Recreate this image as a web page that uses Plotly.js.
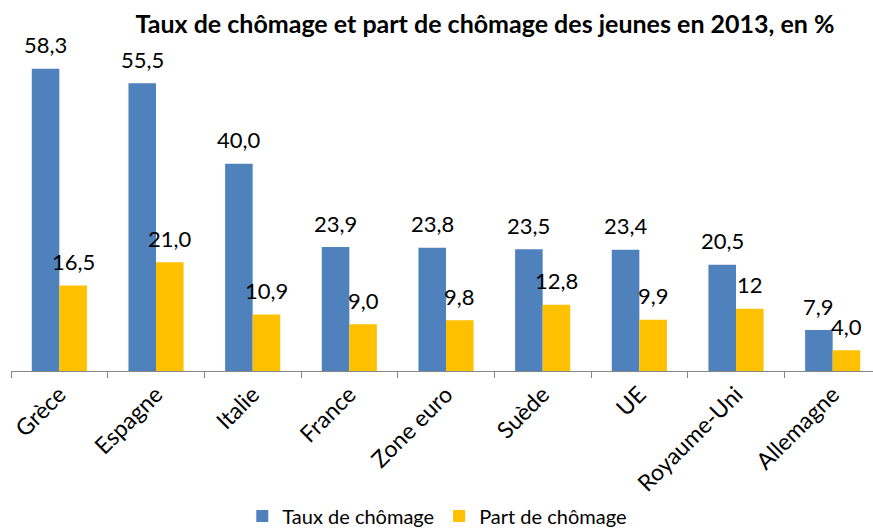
<!DOCTYPE html>
<html>
<head>
<meta charset="utf-8">
<script src="https://cdn.plot.ly/plotly-3.0.1.min.js"></script>
<style>
html,body{margin:0;padding:0;overflow:hidden;background:#fff;}
#chart{width:890px;height:530px;}
</style>
</head>
<body>
<div id="chart"></div>
<script>
const categories = ["Grèce","Espagne","Italie","France","Zone euro","Suède","UE","Royaume-Uni","Allemagne"];
const tauxChomage = [58.3,55.5,40.0,23.9,23.8,23.5,23.4,20.5,7.9];
const partChomage = [16.5,21.0,10.9,9.0,9.8,12.8,9.9,12,4.0];
const tauxLabels = ["58,3","55,5","40,0","23,9","23,8","23,5","23,4","20,5","7,9"];
const partLabels = ["16,5","21,0","10,9","9,0","9,8","12,8","9,9","12","4,0"];

const FONT = "Lato, 'Open Sans', sans-serif";
const bargap = 0.43;
const half = (1 - bargap) / 4; // half of one bar's width in category units

const traces = [
  {type:"bar", name:"Taux de chômage", x:categories, y:tauxChomage,
   marker:{color:"#4F81BD"}, hoverinfo:"none"},
  {type:"bar", name:"Part de chômage", x:categories, y:partChomage,
   marker:{color:"#FFC000"}, hoverinfo:"none"}
];

const annotations = [];
categories.forEach((c,i)=>{
  annotations.push({xref:"x",yref:"y",x:i-half,y:tauxChomage[i],text:tauxLabels[i],
    showarrow:false,yanchor:"middle",yshift:24,font:{family:FONT,size:22,color:"#000"}});
  annotations.push({xref:"x",yref:"y",x:i+half,y:partChomage[i],text:partLabels[i],
    showarrow:false,yanchor:"middle",yshift:24,font:{family:FONT,size:22,color:"#000"}});
});

const layout = {
  width:890, height:530,
  margin:{l:11,r:9,t:60,b:159},
  paper_bgcolor:"#fff", plot_bgcolor:"#fff",
  font:{family:FONT,color:"#000"},
  title:{text:"<b>Taux de chômage et part de chômage des jeunes en 2013, en %</b>",
    font:{family:FONT,size:25,color:"#000"},
    xref:"container", x:485/890, xanchor:"center", yref:"container", y:1-24/530, yanchor:"middle",
    automargin:false},
  barmode:"group", bargap:bargap, bargroupgap:0,
  showlegend:true,
  legend:{orientation:"h", xref:"paper", x:0.49, xanchor:"center",
    yref:"container", y:1-516/530, yanchor:"middle",
    font:{family:FONT,size:20,color:"#000"}, itemwidth:30, traceorder:"normal"},
  xaxis:{type:"category", showline:true, linecolor:"#868686", linewidth:1,
    ticks:"outside", tickson:"boundaries", ticklen:6, tickcolor:"#868686",
    tickangle:-45, tickfont:{family:FONT,size:23,color:"#000"}, showgrid:false, zeroline:false,
    automargin:false, fixedrange:true},
  yaxis:{range:[0,60], visible:false, showgrid:false, zeroline:false, automargin:false, fixedrange:true},
  annotations:annotations
};

Plotly.newPlot("chart", traces, layout, {displayModeBar:false, staticPlot:true});
</script>
</body>
</html>
